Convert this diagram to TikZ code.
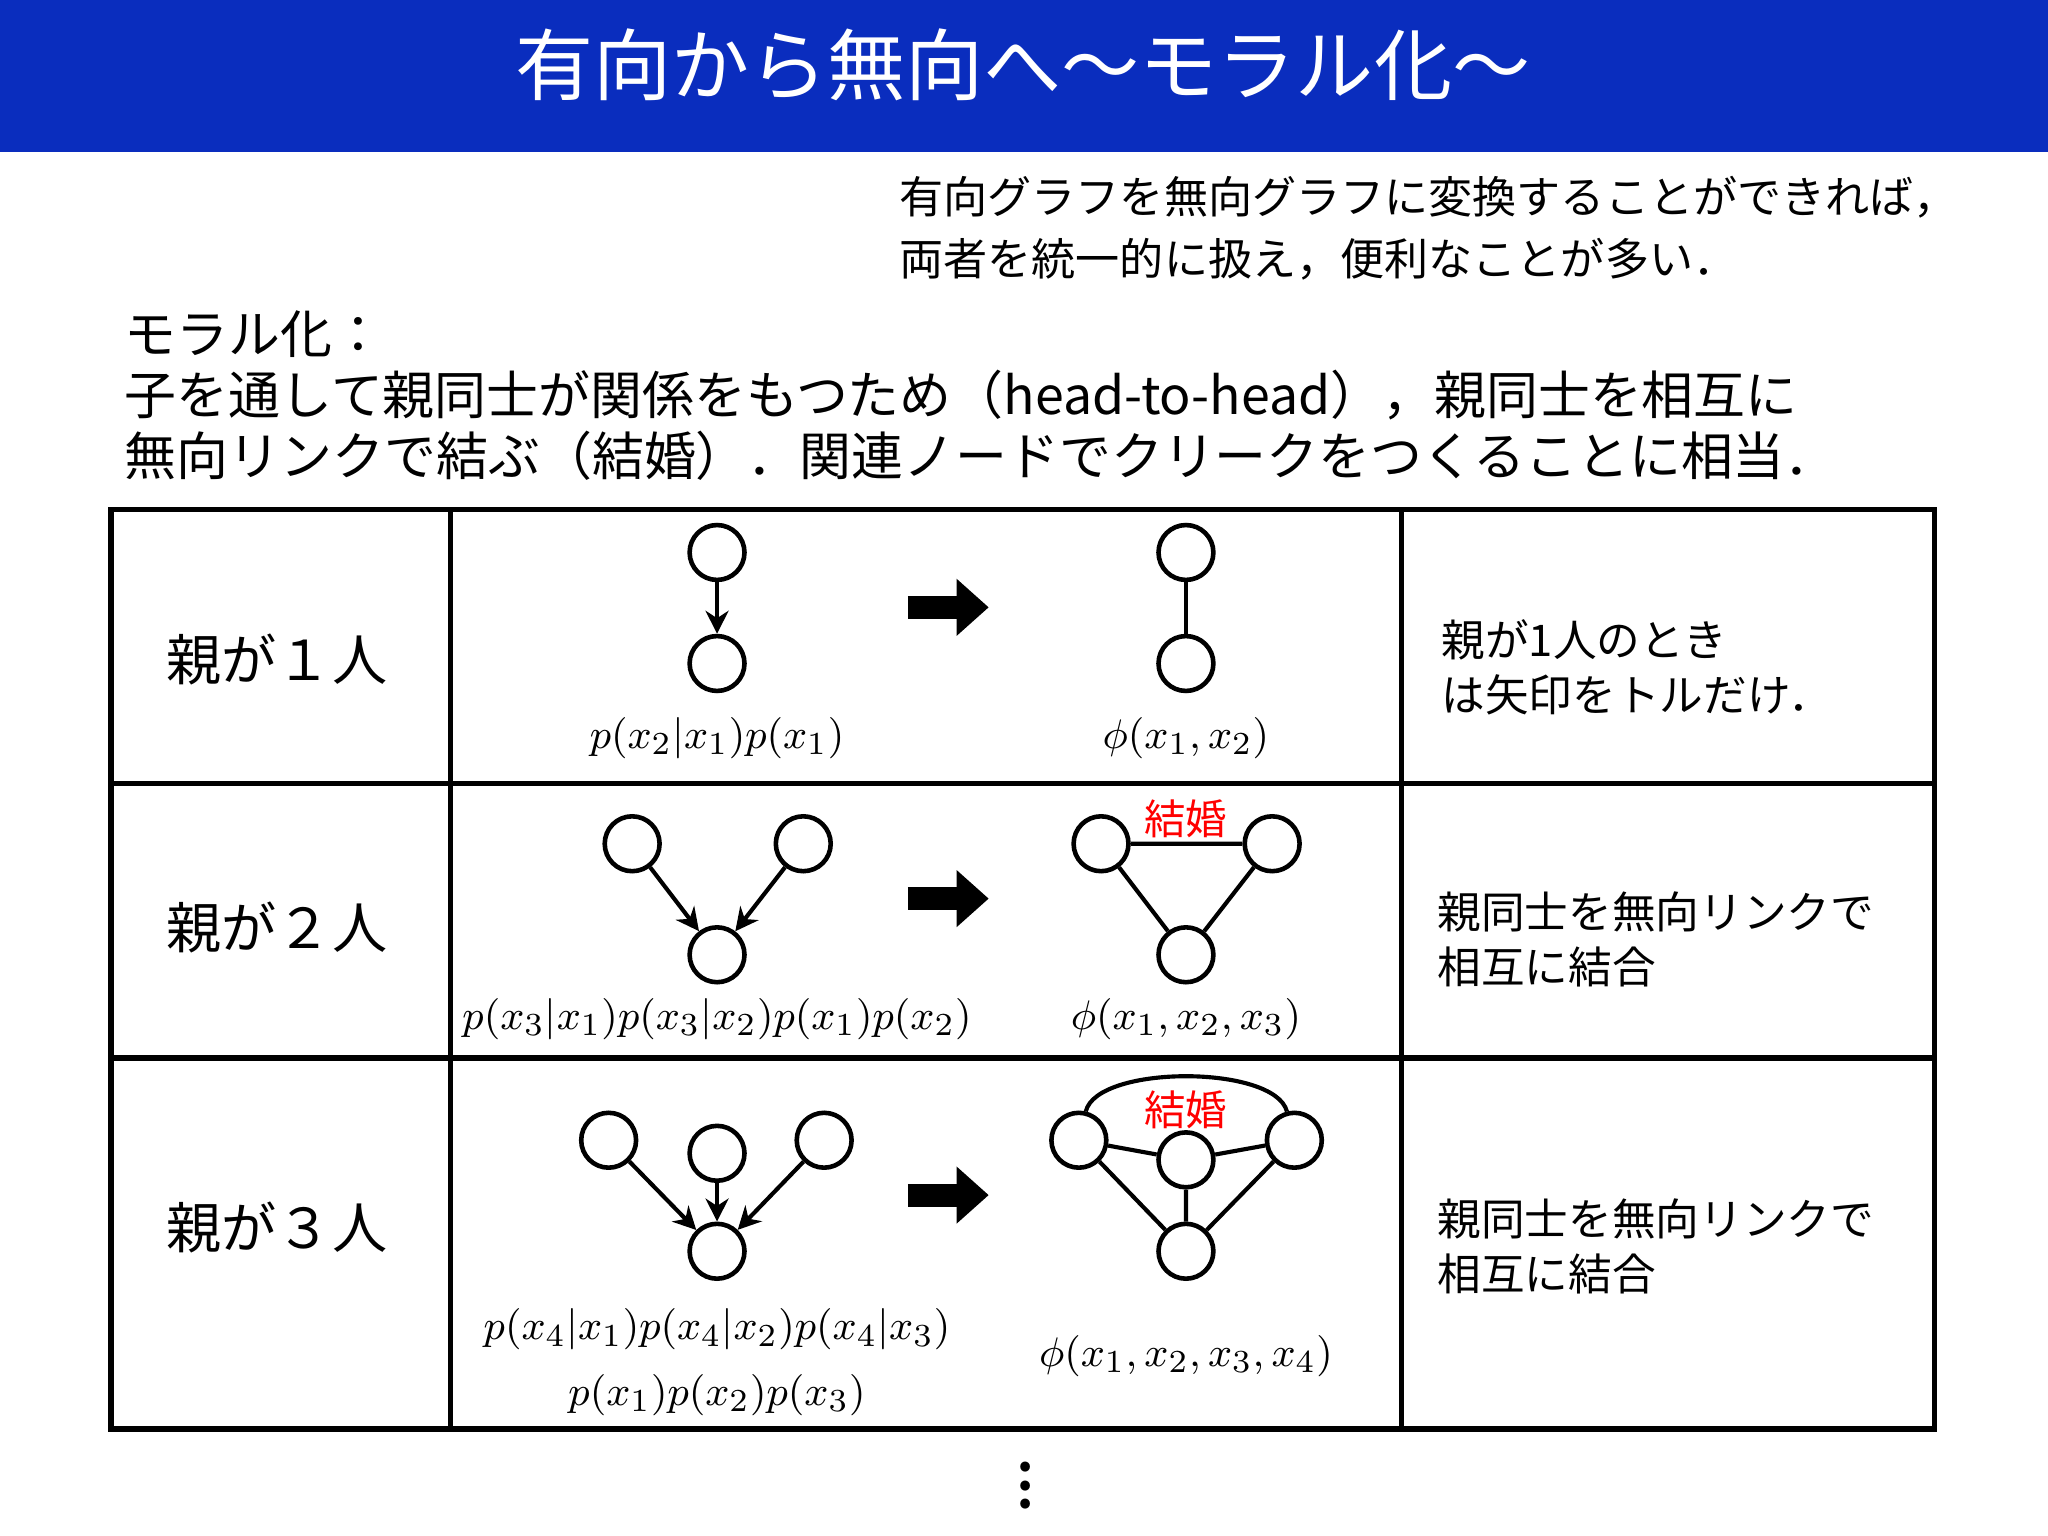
\documentclass[tikz,border=0pt]{standalone}
\usepackage{fontspec}
\setmainfont{Noto Sans CJK JP}
\usetikzlibrary{arrows.meta}
\begin{document}
\begin{tikzpicture}[x=0.01cm,y=-0.01cm,
 v/.style={circle,draw,line width=1pt,minimum size=0.42cm,inner sep=0pt},
 ed/.style={line width=0.9pt},
 dir/.style={line width=0.9pt,-{Stealth[length=5pt,width=5pt]}},
 big/.style={line width=5pt,-{Triangle[length=7pt,width=12pt]}},
 mth/.style={font=\fontsize{9.4}{12}\selectfont},
 cell/.style={font=\fontsize{12}{14}\selectfont},
 note/.style={font=\fontsize{9.5}{12}\selectfont,align=left,anchor=west,inner sep=0pt},
 red/.style={text=red,font=\fontsize{9}{11}\selectfont}]
\useasboundingbox (0,0) rectangle (1568,1176);
\fill[fill={rgb,255:red,10;green,45;blue,190}] (0,0) rectangle (1568,116);
\node[text=white,font=\fontsize{17}{20}\selectfont] (title) at (783,50) {有向から無向へ～モラル化～};
\node[note,font=\fontsize{9.6}{13.5}\selectfont] (intro) at (688,175) {有向グラフを無向グラフに変換することができれば，\\両者を統一的に扱え，便利なことが多い．};
\node[note,font=\fontsize{11.3}{13.3}\selectfont] (moral) at (95,303) {モラル化：\\子を通して親同士が関係をもつため（head-to-head），親同士を相互に\\無向リンクで結ぶ（結婚）．関連ノードでクリークをつくることに相当．};
% table
\draw[line width=1.2pt] (85,390) rectangle (1481,1094);
\draw[line width=1.2pt] (345,390) -- (345,1094) (1073,390) -- (1073,1094) (85,600) -- (1481,600) (85,810) -- (1481,810);
\node[cell] (c1) at (212,505) {親が１人};
\node[cell] (c2) at (212,710) {親が２人};
\node[cell] (c3) at (212,940) {親が３人};
\node[note] (n1) at (1103,511) {親が1人のとき\\は矢印をトルだけ．};
\node[note] (n2) at (1100,719) {親同士を無向リンクで\\相互に結合};
\node[note] (n3) at (1100,954) {親同士を無向リンクで\\相互に結合};
% row 1
\node[v] (a1) at (549,423) {}; \node[v] (a2) at (549,508) {};
\draw[dir] (a1) -- (a2);
\coordinate (r1s) at (695,465); \coordinate (r1e) at (757,465);
\draw[big] (r1s) -- (r1e);
\node[v] (b1) at (908,423) {}; \node[v] (b2) at (908,508) {};
\draw[ed] (b1) -- (b2);
\node[mth] (l1) at (549,565) {$p(x_2|x_1)p(x_1)$};
\node[mth] (m1) at (908,565) {$\phi(x_1,x_2)$};
% row 2
\node[v] (c21) at (484,646) {}; \node[v] (c22) at (615,646) {}; \node[v] (c23) at (549,731) {};
\draw[dir] (c21) -- (c23); \draw[dir] (c22) -- (c23);
\coordinate (r2s) at (695,688); \coordinate (r2e) at (757,688);
\draw[big] (r2s) -- (r2e);
\node[v] (d1) at (843,646) {}; \node[v] (d2) at (974,646) {}; \node[v] (d3) at (908,731) {};
\draw[ed] (d1) -- (d2) (d1) -- (d3) (d2) -- (d3);
\node[red] (k2) at (908,627) {結婚};
\node[mth] (l2) at (549,780) {$p(x_3|x_1)p(x_3|x_2)p(x_1)p(x_2)$};
\node[mth] (m2) at (908,780) {$\phi(x_1,x_2,x_3)$};
% row 3
\node[v] (e1) at (466,873) {}; \node[v] (e2) at (549,883) {}; \node[v] (e3) at (631,873) {}; \node[v] (e4) at (549,958) {};
\draw[dir] (e1) -- (e4); \draw[dir] (e2) -- (e4); \draw[dir] (e3) -- (e4);
\coordinate (r3s) at (695,915); \coordinate (r3e) at (757,915);
\draw[big] (r3s) -- (r3e);
\node[v] (f1) at (826,873) {}; \node[v] (f2) at (908,888) {}; \node[v] (f3) at (991,873) {}; \node[v] (f4) at (908,958) {};
\draw[ed] (f1) -- (f2) (f2) -- (f3) (f1) -- (f4) (f2) -- (f4) (f3) -- (f4);
\draw[ed] (f1) .. controls (840,815) and (976,815) .. (f3);
\node[red] (k3) at (908,850) {結婚};
\node[mth] (l3) at (549,1018) {$p(x_4|x_1)p(x_4|x_2)p(x_4|x_3)$};
\node[mth] (l3b) at (549,1068) {$p(x_1)p(x_2)p(x_3)$};
\node[mth] (m3) at (908,1038) {$\phi(x_1,x_2,x_3,x_4)$};
\node[font=\fontsize{10}{10}\selectfont\bfseries,inner sep=0pt] (dots) at (785,1127) {$\vdots$};
\end{tikzpicture}
\end{document}
